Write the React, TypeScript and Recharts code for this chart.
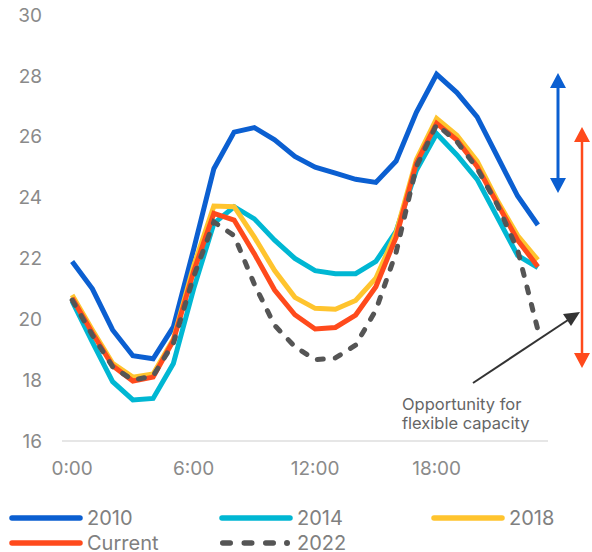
import { Line, LineChart, XAxis, YAxis } from "recharts";

const hours = [0, 1, 2, 3, 4, 5, 6, 7, 8, 9, 10, 11, 12, 13, 14, 15, 16, 17, 18, 19, 20, 21, 22, 23];
const xTicks = [0, 6, 12, 18];
const yTicks = [16, 18, 20, 22, 24, 26, 28, 30];

const demand2010 = [21.9, 21.0, 19.65, 18.8, 18.7, 19.75, 22.3, 24.95, 26.15, 26.3, 25.9, 25.35, 25.0, 24.8, 24.6, 24.5, 25.2, 26.8, 28.05, 27.45, 26.65, 25.35, 24.05, 23.1];
const demand2014 = [20.6, 19.25, 17.95, 17.35, 17.4, 18.55, 21.0, 23.15, 23.7, 23.3, 22.6, 22.0, 21.6, 21.5, 21.5, 21.9, 22.9, 24.9, 26.1, 25.4, 24.6, 23.35, 22.1, 21.7];
const demand2018 = [20.8, 19.65, 18.55, 18.1, 18.2, 19.35, 21.75, 23.72, 23.7, 22.7, 21.6, 20.72, 20.36, 20.33, 20.62, 21.35, 22.85, 25.25, 26.6, 26.05, 25.2, 23.9, 22.75, 21.95];
const demandCurrent = [20.7, 19.55, 18.47, 17.97, 18.1, 19.3, 21.57, 23.48, 23.26, 22.15, 20.96, 20.15, 19.68, 19.73, 20.14, 21.07, 22.7, 25.13, 26.44, 25.89, 25.02, 23.8, 22.6, 21.73];
const demand2022 = [20.63, 19.48, 18.44, 18.0, 18.14, 19.21, 21.4, 23.2, 22.75, 21.15, 19.8, 19.1, 18.67, 18.73, 19.15, 20.3, 22.2, 25.02, 26.4, 25.84, 24.96, 23.76, 22.28, 19.65];

const FONT = "Inter, 'DejaVu Sans', sans-serif";
const BLUE = "#0b5fd1";
const CYAN = "#00b7d3";
const YELLOW = "#ffc42e";
const ORANGE = "#ff4a1c";
const GREY = "#555555";

const data = hours.map((h, i) => ({
  hour: h,
  y2010: demand2010[i],
  y2014: demand2014[i],
  y2018: demand2018[i],
  current: demandCurrent[i],
  y2022: demand2022[i],
}));

const legendItems = [
  { label: "2010", color: BLUE, x: 10, y: 518 },
  { label: "2014", color: CYAN, x: 220, y: 518 },
  { label: "2018", color: YELLOW, x: 432, y: 518 },
  { label: "Current", color: ORANGE, x: 10, y: 543 },
  { label: "2022", color: GREY, x: 220, y: 543, dashed: true },
];

const tickStyle = { fill: "#8a8a8a", fontSize: 19, fontFamily: FONT };

export default function App() {
  return (
    <div style={{ position: "absolute", left: 0, top: 0, width: 592, height: 552, background: "#fff" }}>
      <LineChart
        width={592}
        height={480}
        data={data}
        margin={{ top: 15, right: 44, bottom: 0, left: 0 }}
      >
        <XAxis
          dataKey="hour"
          type="number"
          domain={[-0.5, 23.5]}
          ticks={xTicks}
          tickFormatter={(h: number) => `${h}:00`}
          tickLine={false}
          tickSize={0}
          tickMargin={21}
          height={39}
          axisLine={{ stroke: "#dedede", strokeWidth: 1.5 }}
          tick={tickStyle}
        />
        <YAxis
          domain={[16, 30]}
          ticks={yTicks}
          axisLine={false}
          tickLine={false}
          tickSize={0}
          tickMargin={20}
          width={62}
          tick={tickStyle}
        />
        <Line dataKey="y2010" stroke={BLUE} strokeWidth={5} dot={false} isAnimationActive={false} />
        <Line dataKey="y2014" stroke={CYAN} strokeWidth={5} dot={false} isAnimationActive={false} />
        <Line dataKey="y2018" stroke={YELLOW} strokeWidth={5} dot={false} isAnimationActive={false} />
        <Line dataKey="current" stroke={ORANGE} strokeWidth={5} dot={false} isAnimationActive={false} />
        <Line
          dataKey="y2022"
          stroke={GREY}
          strokeWidth={5}
          strokeDasharray="6 12"
          strokeLinecap="round"
          dot={false}
          isAnimationActive={false}
        />
      </LineChart>

      {/* annotations: range arrows and the callout */}
      <svg width={592} height={552} style={{ position: "absolute", left: 0, top: 0, pointerEvents: "none" }}>
        <line x1={558} y1={86} x2={558} y2={180} stroke={BLUE} strokeWidth={3} />
        <polygon points="558,73 550,88 566,88" fill={BLUE} />
        <polygon points="558,193 550,178 566,178" fill={BLUE} />

        <line x1={582} y1={140} x2={582} y2={355} stroke={ORANGE} strokeWidth={2.5} />
        <polygon points="582,127 574,142 590,142" fill={ORANGE} />
        <polygon points="582,368 574,353 590,353" fill={ORANGE} />

        <line x1={473} y1={383} x2={568} y2={320} stroke="#333" strokeWidth={2} />
        <polygon points="580,312 563,314 571,326" fill="#333" />
        <text x={402} y={410} fontSize={16.5} fill="#666" fontFamily={FONT}>
          Opportunity for
        </text>
        <text x={402} y={429} fontSize={16.5} fill="#666" fontFamily={FONT}>
          flexible capacity
        </text>
      </svg>

      <svg width={592} height={552} style={{ position: "absolute", left: 0, top: 0 }}>
        {legendItems.map((item) => (
          <g key={item.label}>
            {item.dashed ? (
              <>
                <line
                  x1={item.x + 2.75}
                  y1={item.y}
                  x2={item.x + 58}
                  y2={item.y}
                  stroke={item.color}
                  strokeWidth={5.5}
                  strokeLinecap="round"
                  strokeDasharray="7.5 14"
                />
                <circle cx={item.x + 67} cy={item.y} r={3} fill={item.color} />
              </>
            ) : (
              <line
                x1={item.x + 2}
                y1={item.y}
                x2={item.x + 70}
                y2={item.y}
                stroke={item.color}
                strokeWidth={5.5}
                strokeLinecap="round"
              />
            )}
            <text
              x={item.x + 77}
              y={item.y}
              dy="0.35em"
              fontSize={20}
              fill="#808080"
              fontFamily={FONT}
            >
              {item.label}
            </text>
          </g>
        ))}
      </svg>
    </div>
  );
}
